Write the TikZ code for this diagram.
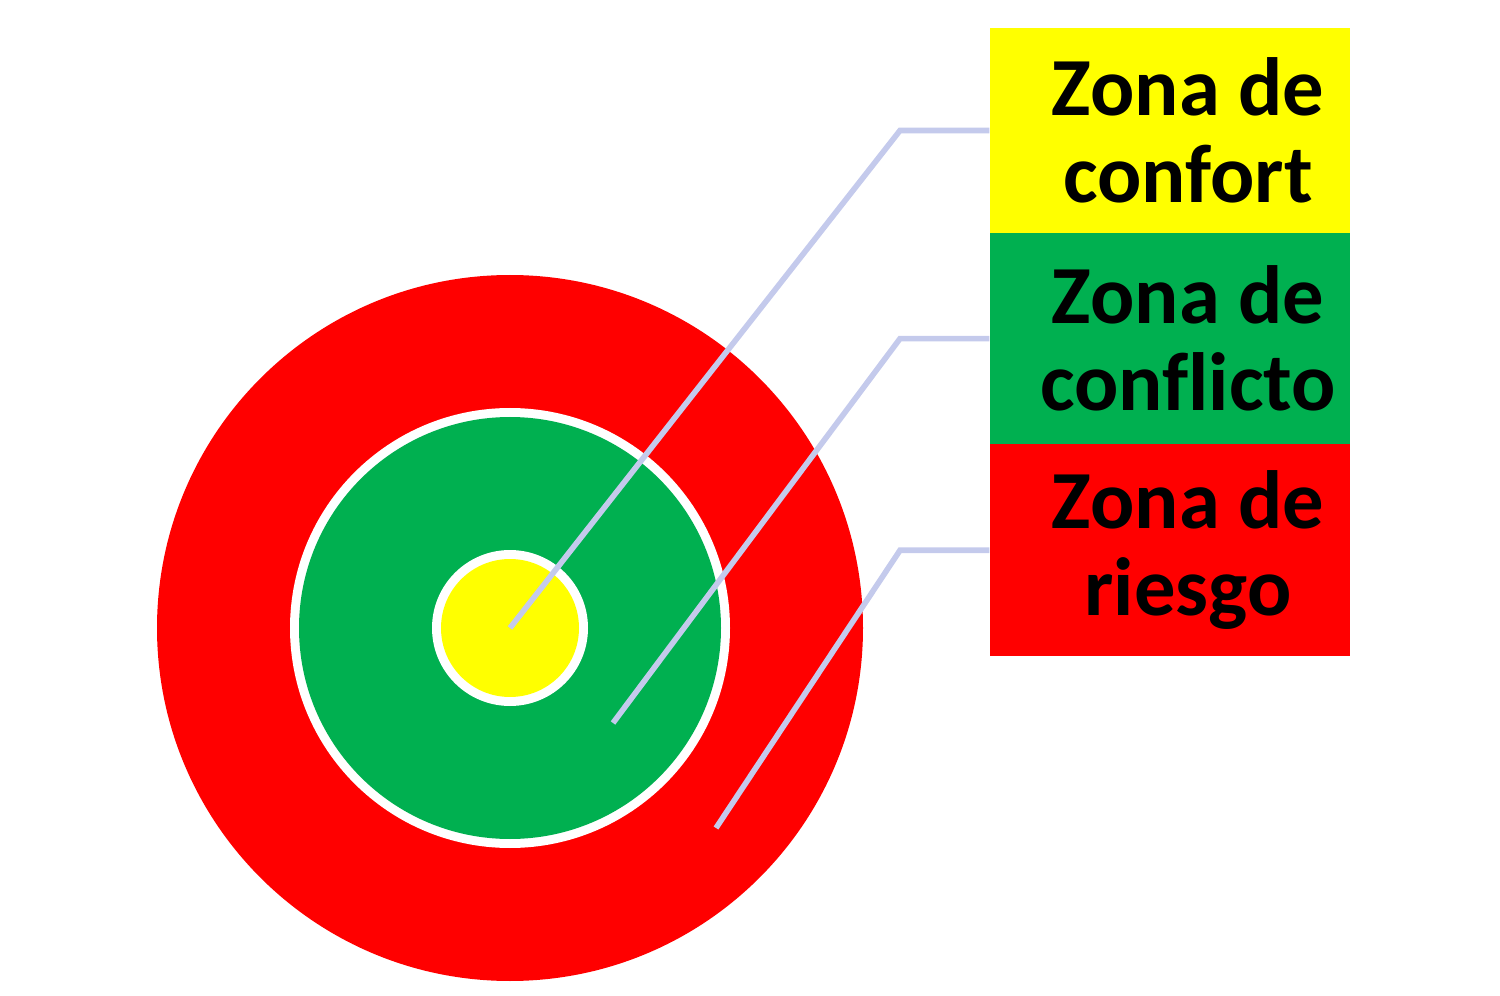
\documentclass[tikz,border=0pt]{standalone}
\usepackage{fontspec}
\setmainfont{Carlito}[Ligatures=NoCommon]
\definecolor{zyellow}{RGB}{255,255,0}
\definecolor{zgreen}{RGB}{0,176,80}
\definecolor{zred}{RGB}{255,0,0}
\definecolor{zline}{RGB}{196,202,236}
\usetikzlibrary{positioning,calc}
\tikzset{
  % circles
	cstring/.style   ={circle,inner sep=0pt,draw=none},
  % boxes
	cstbox/.style    ={rectangle,inner sep=0pt,minimum width=3.6cm,draw=none},
	csttext/.style   ={align=center,inner sep=0pt,text=black,
	                   font=\bfseries\fontsize{23.5}{24.8}\selectfont},
  % connector
	cstlink/.style   ={zline,line width=1.6pt,line join=miter}
}
\begin{document}
\begin{tikzpicture}
	\useasboundingbox (0,0) rectangle (15,9.95);
	% target
	\node[cstring,fill=zred,minimum size=7.06cm] (riesgoC) at (5.10,3.67) {};
	\node[cstring,fill=white,minimum size=4.40cm] at (riesgoC.center) {};
	\node[cstring,fill=zgreen,minimum size=4.22cm] (conflictoC) at (riesgoC.center) {};
	\node[cstring,fill=white,minimum size=1.56cm] at (riesgoC.center) {};
	\node[cstring,fill=zyellow,minimum size=1.38cm] (confortC) at (riesgoC.center) {};
	% legend
	\node[cstbox,fill=zyellow,minimum height=2.05cm] (confort) at (11.70,8.645) {};
	\node[cstbox,fill=zgreen,minimum height=2.12cm,below=-.5pt of confort] (conflicto) {};
	\node[cstbox,fill=zred,minimum height=2.12cm,below=-.5pt of conflicto] (riesgo) {};
	\node[csttext] at ([xshift=.18cm]confort.center) {Zona de\\confort};
	\node[csttext] at ([xshift=.18cm]conflicto.center) {Zona de\\conflicto};
	\node[csttext] at ([xshift=.18cm]riesgo.center) {Zona de\\riesgo};
	% links
	\coordinate (p2) at (6.13,2.72);
	\coordinate (p3) at (7.16,1.67);
	\draw[cstlink] (confortC.center) -- (9.00,0 |- confort.west) -- (confort.west);
	\draw[cstlink] (p2) -- (9.00,0 |- conflicto.west) -- (conflicto.west);
	\draw[cstlink] (p3) -- (9.00,0 |- riesgo.west) -- (riesgo.west);
\end{tikzpicture}
\end{document}
